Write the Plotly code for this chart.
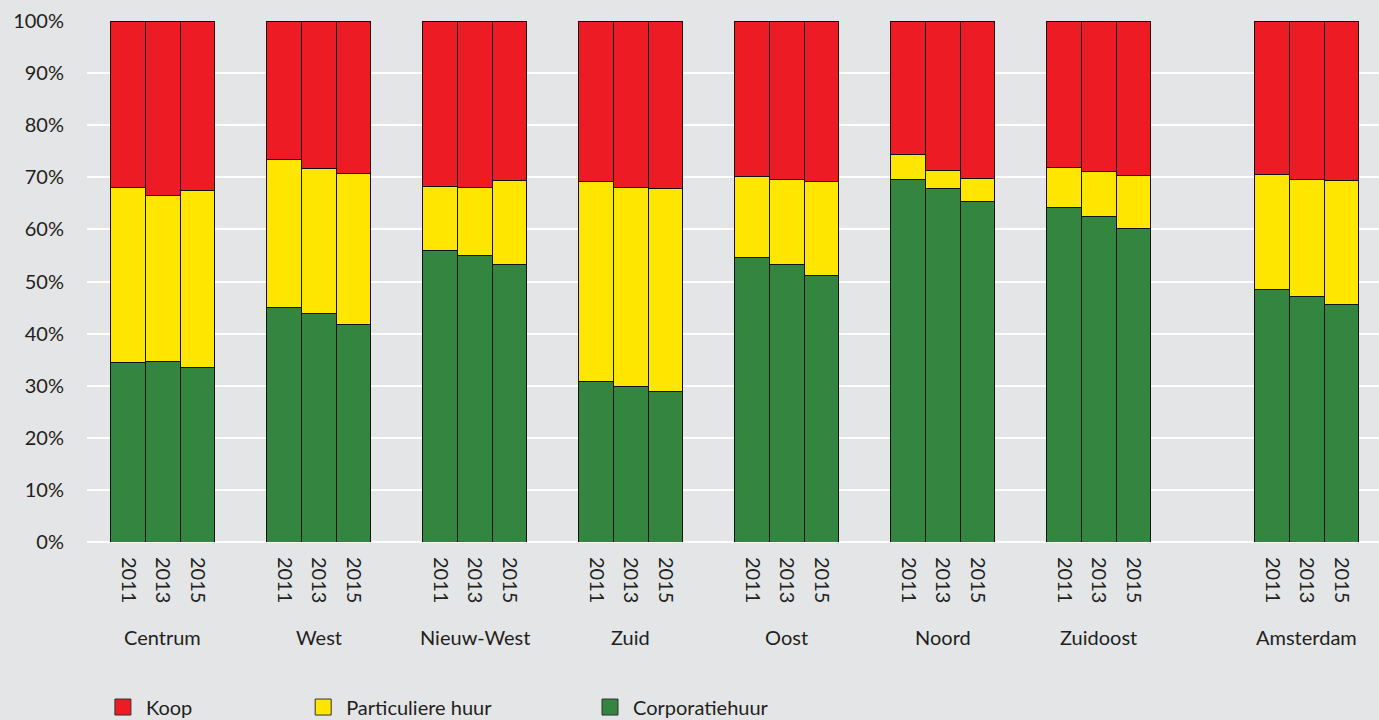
import plotly.graph_objects as go

regions = ["Centrum", "West", "Nieuw-West", "Zuid", "Oost", "Noord", "Zuidoost", "Amsterdam"]
years = ["2011", "2013", "2015"]

# percentages per region, per year (2011, 2013, 2015)
corporatiehuur = [
    [34.5, 34.7, 33.5],
    [45.0, 43.8, 41.7],
    [56.0, 55.0, 53.2],
    [30.9, 29.9, 28.8],
    [54.7, 53.2, 51.2],
    [69.5, 67.9, 65.3],
    [64.3, 62.5, 60.2],
    [48.4, 47.2, 45.5],
]
particuliere_huur = [
    [33.6, 31.9, 34.0],
    [28.5, 27.8, 29.1],
    [12.3, 13.1, 16.1],
    [38.2, 38.2, 39.1],
    [15.4, 16.3, 17.9],
    [4.8, 3.5, 4.4],
    [7.6, 8.6, 10.2],
    [22.2, 22.3, 23.8],
]
koop = [
    [31.9, 33.4, 32.5],
    [26.5, 28.4, 29.2],
    [31.7, 31.9, 30.7],
    [30.9, 31.9, 32.1],
    [29.9, 30.5, 30.9],
    [25.7, 28.6, 30.3],
    [28.1, 28.9, 29.6],
    [29.4, 30.5, 30.7],
]

# group layout (in bar-width units)
group_step = 4.5
extra_gap_last = 1.5
group_starts = [i * group_step for i in range(len(regions))]
group_starts[-1] += extra_gap_last

xs, ticktext = [], []
for g, start in enumerate(group_starts):
    for j, yr in enumerate(years):
        xs.append(start + 0.5 + j)
        ticktext.append(yr)
tickvals = xs

def flat(a):
    return [v for row in a for v in row]

font_family = "Lato, 'Open Sans', sans-serif"
text_color = "#231F20"
bg = "#E4E5E7"
fsize = 20

fig = go.Figure()
series = [
    ("Corporatiehuur", corporatiehuur, "#348540", "legend3"),
    ("Particuliere huur", particuliere_huur, "#FFE600", "legend2"),
    ("Koop", koop, "#ED1C24", "legend"),
]
for name, vals, col, lg in series:
    fig.add_trace(go.Bar(
        x=xs, y=flat(vals), name=name, width=1.0, showlegend=False,
        marker=dict(color=col, line=dict(color="#111111", width=1)),
        hovertemplate="%{y:.1f}%<extra>" + name + "</extra>",
    ))
    # legend-only entry with a larger square swatch
    fig.add_trace(go.Scatter(
        x=[None], y=[None], mode="markers", name=name, legend=lg,
        marker=dict(symbol="square", size=16, color=col,
                    line=dict(color="#333333", width=1)),
        hoverinfo="skip",
    ))

for g, start in enumerate(group_starts):
    fig.add_annotation(
        x=start + 1.5, y=-0.182, xref="x", yref="paper",
        text=regions[g], showarrow=False,
        font=dict(size=fsize, color=text_color, family=font_family),
        xanchor="center", yanchor="middle",
    )

leg_common = dict(
    orientation="h", yref="container", y=0.018, yanchor="middle", xanchor="left",
    font=dict(size=fsize, color=text_color, family=font_family),
    bgcolor="rgba(0,0,0,0)", itemsizing="trace", itemwidth=36,
)

fig.update_layout(
    width=1379, height=720,
    barmode="stack",
    paper_bgcolor=bg, plot_bgcolor=bg,
    margin=dict(l=87, r=0, t=21, b=178, autoexpand=False),
    font=dict(family=font_family, size=fsize, color=text_color),
    showlegend=True,
    legend=dict(x=0.010, **leg_common),
    legend2=dict(x=0.165, **leg_common),
    legend3=dict(x=0.387, **leg_common),
    xaxis=dict(
        range=[-0.69, 36.58],
        tickvals=tickvals, ticktext=ticktext, tickangle=90,
        showgrid=False, zeroline=False, showline=False,
        ticks="", ticklabelstandoff=14, automargin=False,
        tickfont=dict(size=fsize, color=text_color, family=font_family),
        fixedrange=True,
    ),
    yaxis=dict(
        range=[0, 100], tickvals=list(range(0, 101, 10)),
        ticktext=[f"{v}%" for v in range(0, 101, 10)],
        showgrid=True, gridcolor="#FFFFFF", gridwidth=2,
        zeroline=True, zerolinecolor="#FFFFFF", zerolinewidth=2,
        showline=False, ticks="", ticklabelstandoff=22, automargin=False,
        tickfont=dict(size=fsize, color=text_color, family=font_family),
        fixedrange=True,
    ),
)

fig.write_html("out.html")
